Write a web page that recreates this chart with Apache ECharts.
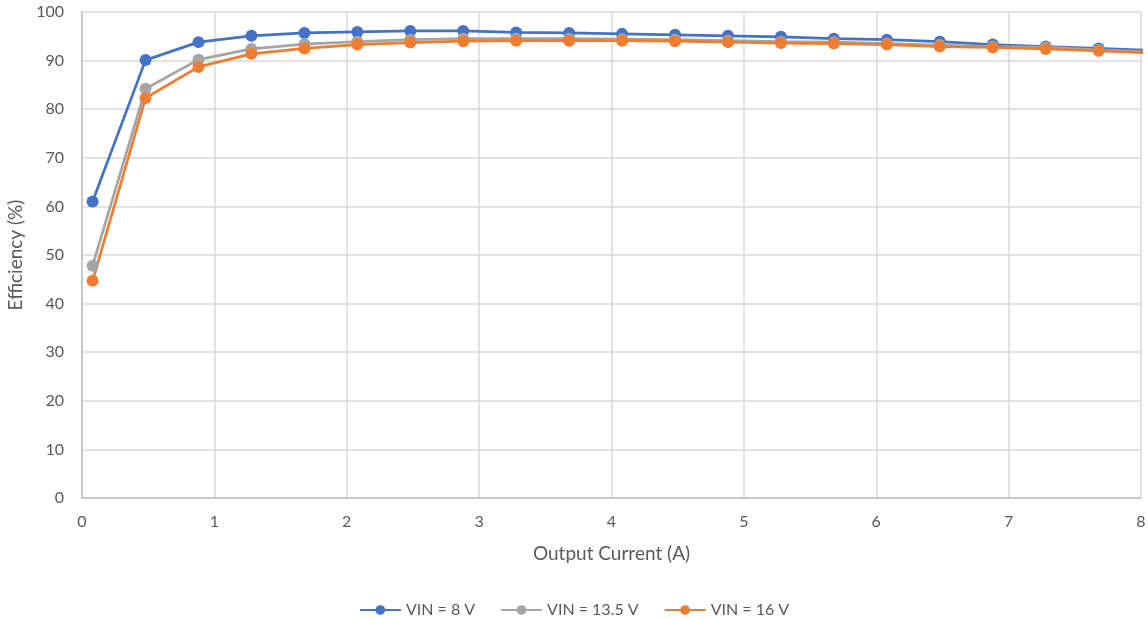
<!DOCTYPE html>
<html>
<head>
<meta charset="utf-8">
<title>Efficiency vs Output Current</title>
<script src="https://cdn.jsdelivr.net/npm/echarts@6/dist/echarts.min.js"></script>
<style>
  html, body { margin: 0; padding: 0; background: #ffffff; }
  #chart { width: 1148px; height: 619px; }
</style>
</head>
<body>
<div id="chart"></div>
<script>
// Output current sample points (A)
const currents = [0.08, 0.48, 0.88, 1.28, 1.68, 2.08, 2.48, 2.88, 3.28, 3.68, 4.08,
                  4.48, 4.88, 5.28, 5.68, 6.08, 6.48, 6.88, 7.28, 7.68, 8.08];

// Efficiency (%) for each input voltage
const eff8V    = [61.0, 90.1, 93.8, 95.1, 95.7, 95.9, 96.1, 96.1, 95.8, 95.7, 95.5,
                  95.3, 95.1, 94.9, 94.5, 94.3, 93.9, 93.3, 92.9, 92.5, 92.1];
const eff13p5V = [47.8, 84.2, 90.2, 92.4, 93.4, 93.9, 94.3, 94.5, 94.5, 94.5, 94.4,
                  94.3, 94.1, 93.9, 93.8, 93.5, 93.2, 92.9, 92.7, 92.2, 91.8];
const eff16V   = [44.7, 82.3, 88.7, 91.4, 92.5, 93.3, 93.7, 94.0, 94.1, 94.1, 94.1,
                  94.0, 93.8, 93.6, 93.5, 93.3, 92.9, 92.7, 92.4, 92.0, 91.6];

const seriesNames = ['VIN = 8 V', 'VIN = 13.5 V', 'VIN = 16 V'];
const seriesColors = ['#4472C4', '#A5A5A5', '#ED7D31'];
const seriesValues = [eff8V, eff13p5V, eff16V];

const textColor = '#595959';
const fontFamily = 'Lato, "Open Sans", sans-serif';

const chart = echarts.init(document.getElementById('chart'), null, { renderer: 'canvas' });

chart.setOption({
  animation: false,
  backgroundColor: '#ffffff',
  textStyle: { fontFamily: fontFamily, color: textColor },
  grid: { left: 82, right: 7, top: 12, bottom: 121, containLabel: false, outerBoundsMode: 'none' },
  legend: {
    top: 597,
    left: 'center',
    itemWidth: 41,
    itemHeight: 12,
    itemGap: 25,
    textStyle: { fontSize: 16, color: textColor, fontFamily: fontFamily },
    data: seriesNames
  },
  xAxis: {
    type: 'value',
    min: 0,
    max: 8,
    interval: 1,
    name: 'Output Current (A)',
    nameLocation: 'middle',
    nameGap: 46,
    nameTextStyle: { fontSize: 19, color: textColor, fontFamily: fontFamily },
    axisLine: { show: true, lineStyle: { color: '#BFBFBF', width: 1.5 } },
    axisTick: { show: false },
    axisLabel: { fontSize: 16, color: textColor, margin: 16, fontFamily: fontFamily },
    splitLine: { show: true, lineStyle: { color: '#D9D9D9', width: 1.5 } }
  },
  yAxis: {
    type: 'value',
    min: 0,
    max: 100,
    interval: 10,
    name: 'Efficiency (%)',
    nameLocation: 'middle',
    nameGap: 54,
    nameTextStyle: { fontSize: 19, color: textColor, fontFamily: fontFamily },
    axisLine: { show: true, lineStyle: { color: '#BFBFBF', width: 1.5 } },
    axisTick: { show: false },
    axisLabel: { fontSize: 16, color: textColor, margin: 18, fontFamily: fontFamily },
    splitLine: { show: true, lineStyle: { color: '#D9D9D9', width: 1.5 } }
  },
  series: seriesNames.map(function (name, i) {
    return {
      name: name,
      type: 'line',
      clip: true,
      color: seriesColors[i],
      symbol: 'circle',
      symbolSize: 12,
      showAllSymbol: true,
      lineStyle: { width: 2.75, color: seriesColors[i] },
      itemStyle: { color: seriesColors[i] },
      data: currents.map(function (x, k) { return [x, seriesValues[i][k]]; })
    };
  })
});
</script>
</body>
</html>
